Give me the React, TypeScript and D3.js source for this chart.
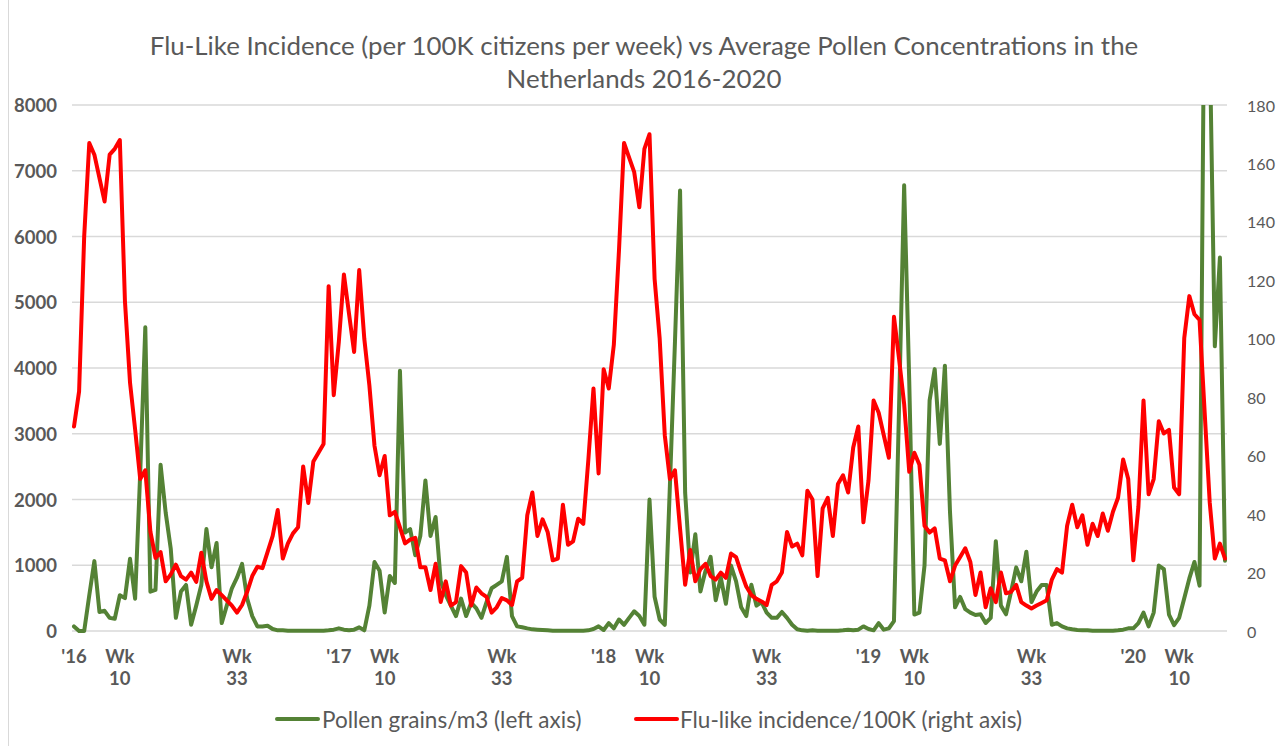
import React from "react";
import * as d3 from "d3";

const pollen: number[] = [
  70, 0, 0, 545, 1063, 290, 307, 200, 185, 545,
  500, 1100, 492, 2400, 4618, 598, 624, 2529, 1800, 1250,
  200, 600, 700, 95, 386, 700, 1550, 968, 1338, 120,
  386, 650, 810, 1020, 492, 227, 70, 70, 80, 30,
  10, 10, 5, 5, 5, 5, 5, 5, 5, 5,
  10, 20, 40, 20, 10, 20, 55, 10, 386, 1050,
  915, 280, 836, 730, 3957, 1497, 1550, 1153, 1444, 2290,
  1444, 1735, 756, 545, 386, 227, 492, 227, 430, 344,
  200, 440, 650, 703, 756, 1127, 227, 70, 58, 40,
  25, 20, 15, 10, 5, 5, 5, 5, 5, 5,
  5, 10, 30, 70, 15, 120, 40, 175, 95, 200,
  300, 227, 95, 2000, 520, 175, 95, 2200, 4400, 6700,
  2100, 890, 1470, 600, 915, 1127, 466, 810, 413, 995,
  756, 360, 227, 703, 386, 440, 280, 200, 200, 290,
  200, 95, 26, 10, 5, 10, 5, 5, 5, 5,
  5, 10, 20, 10, 20, 70, 30, 10, 120, 20,
  40, 150, 3400, 6780, 3800, 250, 280, 995, 3507, 3983,
  2846, 4036, 1815, 360, 518, 333, 280, 243, 254, 122,
  200, 1365, 386, 254, 598, 968, 756, 1206, 440, 600,
  700, 700, 95, 120, 70, 40, 26, 15, 10, 10,
  5, 5, 5, 5, 5, 10, 20, 40, 40, 120,
  280, 70, 280, 995, 940, 250, 90, 200, 500, 800,
  1050, 690, 10500, 9000, 4330, 5680, 1070,
];

const flu: number[] = [
  70, 82, 135, 167, 163, 155, 147, 163, 165, 168,
  113, 85, 69, 52, 55, 34, 25, 27, 17, 19.4,
  22.7, 18.8, 17.6, 20, 16.8, 26.8, 17, 11, 14, 12.3,
  10.5, 8.7, 6.3, 8.9, 13.4, 18.8, 22, 21.5, 27, 32.5,
  41.4, 24.8, 30, 33.4, 35.5, 56.3, 43.8, 58, 61, 64,
  118, 80.7, 99, 122, 108.6, 95.5, 123.5, 100, 84, 63.4,
  53.3, 59.9, 39.6, 40.8, 35.5, 30, 31.3, 31.9, 21.8, 21.8,
  14, 23, 9.9, 17, 8.7, 9.9, 22.2, 20, 8.7, 14.9,
  12.9, 11.7, 6.3, 8.1, 11.3, 10.5, 8.9, 17, 18.2, 39.6,
  47.4, 32.5, 38.2, 33.9, 24.2, 24.8, 43.2, 29.5, 30.7, 38.4,
  36.7, 58.7, 83, 53.9, 89.6, 83, 98, 130, 167, 162,
  157, 145, 165, 170, 120.5, 100, 67, 52, 55, 35,
  15.8, 27.7, 17, 21.2, 23, 18.8, 17.6, 20, 18.2, 26.5,
  25.3, 20, 15.2, 12.3, 11, 10.1, 8.9, 15.8, 17, 20,
  33.9, 28.9, 29.9, 25.9, 48, 45, 18.8, 42, 45.6, 32.5,
  50.3, 53.3, 47.4, 62.8, 70, 37.2, 51.5, 78.9, 74.7, 67,
  59.3, 107.5, 93.2, 77.7, 54.5, 61, 56.9, 36, 33.7, 35.1,
  24.8, 24.2, 17, 22.4, 25.3, 28.3, 23.6, 12.3, 20, 8.1,
  14.6, 9.9, 20, 12.9, 13.4, 15.8, 9.9, 8.7, 7.7, 8.7,
  9.6, 10.5, 17.6, 21.2, 20, 36, 43.2, 35.5, 39.6, 29.5,
  36.7, 32.5, 40.2, 34.3, 40.8, 45.6, 58.7, 52, 24.2, 42.6,
  78.9, 46.8, 52, 71.8, 67.6, 68.8, 49.1, 46.8, 100.3, 114.6,
  108.4, 106.5, 75, 44, 24.8, 29.9, 24.8,
];

const leftTicks = [0, 1000, 2000, 3000, 4000, 5000, 6000, 7000, 8000];
const rightTicks = [0, 20, 40, 60, 80, 100, 120, 140, 160, 180];
const yearLabels = ["'16", "'17", "'18", "'19", "'20"];
const yearStartIndex = [0, 52, 104, 156, 208];
const weekMarks = [10, 33];
const titleLines = [
  "Flu-Like Incidence (per 100K citizens per week) vs Average Pollen Concentrations in the",
  "Netherlands 2016-2020",
];
const legendLabels = ["Pollen grains/m3 (left axis)", "Flu-like incidence/100K (right axis)"];

const FONT = "Lato, Carlito, 'Open Sans', sans-serif";
const TEXT = "#595959";
const GREEN = "#548235";
const RED = "#FF0000";

function fitSize(text: string, weight: string, width: number): number {
  try {
    const ctx = document.createElement("canvas").getContext("2d");
    if (!ctx) return 16;
    ctx.font = `${weight} 100px Lato`;
    const w = ctx.measureText(text).width;
    return (100 * width) / w;
  } catch (e) {
    return 16;
  }
}

export default function App() {
  const W = 1279;
  const H = 746;
  const plotL = 72;
  const plotR = 1227;
  const plotT = 105;
  const plotB = 631;
  const n = flu.length;

  const x = d3.scaleLinear().domain([0, n - 1]).range([74, 1225]);
  const yL = d3.scaleLinear().domain([0, 8000]).range([plotB, plotT]);
  const yR = d3.scaleLinear().domain([0, 180]).range([plotB, plotT]);

  const pollenLine = d3
    .line<number>()
    .x((_, i) => x(i))
    .y((d) => yL(d));
  const fluLine = d3
    .line<number>()
    .x((_, i) => x(i))
    .y((d) => yR(d));

  const titleSize = fitSize(titleLines[0], "normal", 992);
  const legSize =
    (fitSize(legendLabels[0], "normal", 263) + fitSize(legendLabels[1], "normal", 338)) / 2;
  const axisBold = fitSize("8000", "bold", 43);
  const axisRight = fitSize("180", "normal", 28);

  const weekTicks: { i: number; wk: number }[] = [];
  yearStartIndex.forEach((s) => {
    weekMarks.forEach((w) => {
      const i = s + w - 1;
      if (i < n) weekTicks.push({ i, wk: w });
    });
  });

  return (
    <svg
      width={W}
      height={H}
      style={{ position: "absolute", left: 0, top: 0, display: "block", background: "#fff" }}
      fontFamily={FONT}
    >
      <defs>
        <clipPath id="plotclip">
          <rect x={0} y={plotT} width={W} height={H - plotT} />
        </clipPath>
      </defs>
      <rect x={0} y={0} width={W} height={H} fill="#fff" />
      <line x1={8.5} x2={8.5} y1={0} y2={H} stroke="#d9d9d9" strokeWidth={1} />

      {titleLines.map((t, k) => (
        <text
          key={k}
          x={644}
          y={45 + k * 33}
          textAnchor="middle"
          dominantBaseline="central"
          fontSize={titleSize}
          fill={TEXT}
        >
          {t}
        </text>
      ))}

      {leftTicks.map((t) => (
        <line key={t} x1={plotL} x2={plotR} y1={yL(t)} y2={yL(t)} stroke="#d9d9d9" strokeWidth={1.3} />
      ))}

      {leftTicks.map((t) => (
        <text
          key={t}
          x={57}
          y={yL(t)}
          textAnchor="end"
          dominantBaseline="central"
          fontWeight="bold"
          fontSize={axisBold}
          fill={TEXT}
        >
          {t}
        </text>
      ))}
      {rightTicks.map((t) => (
        <text
          key={t}
          x={1247}
          y={yR(t)}
          textAnchor="start"
          dominantBaseline="central"
          fontSize={axisRight}
          fill={TEXT}
        >
          {t}
        </text>
      ))}

      {yearLabels.map((lab, k) => (
        <text
          key={lab}
          x={x(yearStartIndex[k])}
          y={656}
          textAnchor="middle"
          dominantBaseline="central"
          fontWeight="bold"
          fontSize={axisBold}
          fill={TEXT}
        >
          {lab}
        </text>
      ))}
      {weekTicks.map((w) => (
        <g key={w.i}>
          <text
            x={x(w.i)}
            y={656}
            textAnchor="middle"
            dominantBaseline="central"
            fontWeight="bold"
            fontSize={axisBold}
            fill={TEXT}
          >
            Wk
          </text>
          <text
            x={x(w.i)}
            y={678}
            textAnchor="middle"
            dominantBaseline="central"
            fontWeight="bold"
            fontSize={axisBold}
            fill={TEXT}
          >
            {w.wk}
          </text>
        </g>
      ))}

      <g clipPath="url(#plotclip)">
        <path
          d={pollenLine(pollen) || ""}
          fill="none"
          stroke={GREEN}
          strokeWidth={4}
          strokeLinejoin="round"
          strokeLinecap="round"
        />
        <path
          d={fluLine(flu) || ""}
          fill="none"
          stroke={RED}
          strokeWidth={4}
          strokeLinejoin="round"
          strokeLinecap="round"
        />
      </g>

      <line x1={277} x2={318} y1={719} y2={719} stroke={GREEN} strokeWidth={4} strokeLinecap="round" />
      <text x={322} y={719} dominantBaseline="central" fontSize={legSize} fill={TEXT}>
        {legendLabels[0]}
      </text>
      <line x1={636} x2={677} y1={719} y2={719} stroke={RED} strokeWidth={4} strokeLinecap="round" />
      <text x={680} y={719} dominantBaseline="central" fontSize={legSize} fill={TEXT}>
        {legendLabels[1]}
      </text>
    </svg>
  );
}
